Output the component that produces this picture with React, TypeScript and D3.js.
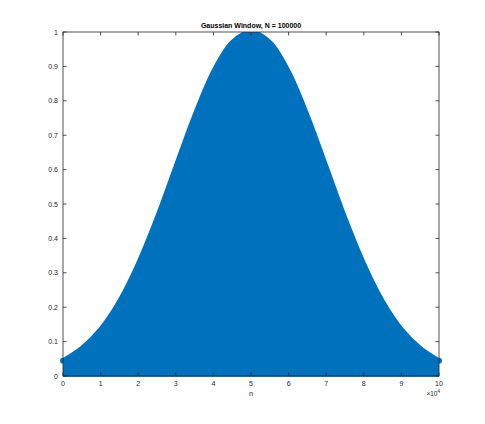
import React from "react";
import * as d3 from "d3";

const sampleN = [0, 0.5, 1, 1.5, 2, 2.5, 3, 3.5, 4, 4.5, 5, 5.5, 6, 6.5, 7, 7.5, 8, 8.5, 9, 9.5, 9.9999];
const sampleW = [0.044, 0.080, 0.135, 0.216, 0.325, 0.458, 0.607, 0.755, 0.883, 0.969, 1.0, 0.969, 0.883, 0.755, 0.607, 0.458, 0.325, 0.216, 0.135, 0.080, 0.044];
const xTicks = [0, 1, 2, 3, 4, 5, 6, 7, 8, 9, 10];
const yTicks = [0, 0.1, 0.2, 0.3, 0.4, 0.5, 0.6, 0.7, 0.8, 0.9, 1];
const title = "Gaussian Window, N = 100000";
const xLabel = "n";

const W = 485, H = 424;
const L = 63, R = 439, T = 32, B = 376;
const blue = "#0072BD";
const axisColor = "#262626";
const font = "'Liberation Sans', Arial, sans-serif";

export default function App() {
  const x = d3.scaleLinear().domain([0, 10]).range([L, R]);
  const y = d3.scaleLinear().domain([0, 1]).range([B, T]);
  const pts: [number, number][] = sampleN.map((n, i) => [n, sampleW[i]]);
  const area = d3.area<[number, number]>()
    .x(d => x(d[0])).y0(y(0)).y1(d => y(d[1]))
    .curve(d3.curveCatmullRom)(pts) || "";
  const line = d3.line<[number, number]>()
    .x(d => x(d[0])).y(d => y(d[1]))
    .curve(d3.curveCatmullRom)(pts) || "";
  const tl = 3.5;
  return (
    <svg width={W} height={H} style={{ position: "absolute", left: 0, top: 0, background: "#fff" }}
      fontFamily={font}>
      <defs>
        <clipPath id="clip">
          <rect x={L - 3} y={T} width={R - L + 6} height={B - T + 3} />
        </clipPath>
      </defs>
      <g clipPath="url(#clip)">
        <path d={area} fill={blue} />
        <path d={line} fill="none" stroke={blue} strokeWidth={5} strokeLinejoin="round" />
        <circle cx={x(sampleN[0])} cy={y(sampleW[0])} r={3} fill={blue} />
        <circle cx={x(sampleN[sampleN.length - 1])} cy={y(sampleW[sampleW.length - 1])} r={3} fill={blue} />
      </g>
      {/* frame */}
      <rect x={L} y={T} width={R - L} height={B - T} fill="none" stroke={axisColor} strokeWidth={0.8} />
      {/* baseline */}
      <line x1={L} x2={R} y1={B} y2={B} stroke="#0a4a7e" strokeWidth={1.6} />
      {xTicks.map(t => (
        <g key={"x" + t}>
          <line x1={x(t)} x2={x(t)} y1={B} y2={B - tl} stroke={axisColor} strokeWidth={0.8} />
          <line x1={x(t)} x2={x(t)} y1={T} y2={T + tl} stroke={axisColor} strokeWidth={0.8} />
          <text x={x(t)} y={B + 10} fontSize={7} textAnchor="middle" fill={axisColor}>{t}</text>
        </g>
      ))}
      {yTicks.map(t => (
        <g key={"y" + t}>
          <line x1={L} x2={L + tl} y1={y(t)} y2={y(t)} stroke={axisColor} strokeWidth={0.8} />
          <line x1={R} x2={R - tl} y1={y(t)} y2={y(t)} stroke={axisColor} strokeWidth={0.8} />
          <text x={L - 5} y={y(t) + 2.5} fontSize={7} textAnchor="end" fill={axisColor}>{t}</text>
        </g>
      ))}
      <text x={(L + R) / 2} y={T - 4} fontSize={7} fontWeight="bold" textAnchor="middle" fill="#000">{title}</text>
      <text x={(L + R) / 2} y={B + 20} fontSize={7.5} textAnchor="middle" fill={axisColor}>{xLabel}</text>
      <text x={R + 1} y={B + 20} fontSize={6.5} textAnchor="end" fill={axisColor}>
        {"\u00d710"}<tspan fontSize={4.5} dy={-3}>4</tspan>
      </text>
    </svg>
  );
}
